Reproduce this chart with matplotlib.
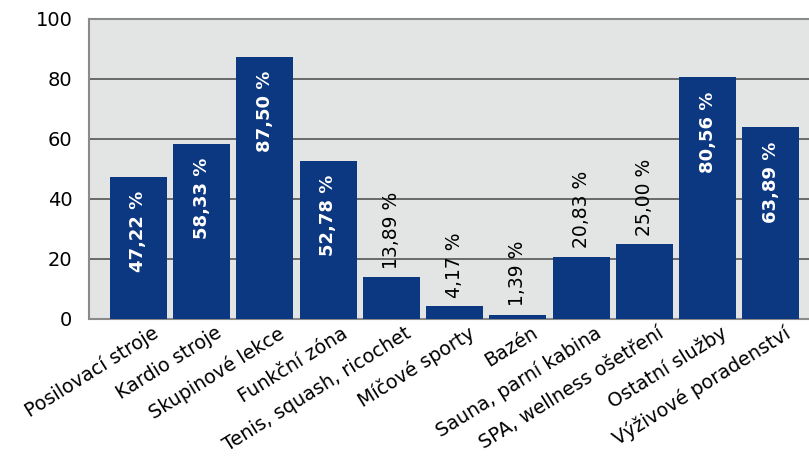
import numpy as np
import matplotlib.pyplot as plt
import matplotlib.transforms as mtransforms

categories = ['Posilovací stroje', 'Kardio stroje', 'Skupinové lekce', 'Funkční zóna',
              'Tenis, squash, ricochet', 'Míčové sporty', 'Bazén', 'Sauna, parní kabina',
              'SPA, wellness ošetření', 'Ostatní služby', 'Výživové poradenství']
values = [47.22, 58.33, 87.50, 52.78, 13.89, 4.17, 1.39, 20.83, 25.00, 80.56, 63.89]
yticks = [0, 20, 40, 60, 80, 100]

BAR = '#0c3781'


def fmt(v):
    return f'{v:.2f}'.replace('.', ',') + ' %'


def main():
    fig = plt.figure(figsize=(8.09, 4.57), dpi=100)
    ax = fig.add_axes([89 / 809, 138 / 457, 730 / 809, 300 / 457])
    ax.set_facecolor('#e3e4e4')

    x = np.arange(len(values))
    ax.bar(x, values, width=0.9, color=BAR, zorder=3)

    ax.set_ylim(0, 100)
    ax.set_xlim(-0.78, 10.76)
    ax.set_yticks(yticks)
    ax.set_yticklabels([str(t) for t in yticks], fontsize=14)
    ax.yaxis.grid(True, color='#555555', linewidth=1.2, zorder=1)
    ax.tick_params(axis='y', length=0, pad=12)
    ax.tick_params(axis='x', length=0, pad=4)
    for s in ax.spines.values():
        s.set_color('#8a8a8a')
        s.set_linewidth(1.5)
    ax.spines['right'].set_visible(False)

    ax.set_xticks(x)
    ax.set_xticklabels(categories, rotation=32, ha='right', va='top',
                       rotation_mode='anchor', fontsize=13.8)
    shift = mtransforms.ScaledTranslation(13 / 100, 1 / 100, fig.dpi_scale_trans)
    for lbl in ax.get_xticklabels():
        lbl.set_transform(lbl.get_transform() + shift)

    # big values inside the bar, small ones above it
    for xi, v in zip(x, values):
        if v > 40:
            ax.annotate(fmt(v), (xi, v), xytext=(0, -10), textcoords='offset points',
                        rotation=90, ha='center', va='top', color='white',
                        fontweight='bold', fontsize=13, zorder=4)
        else:
            ax.annotate(fmt(v), (xi, v), xytext=(0, 6), textcoords='offset points',
                        rotation=90, ha='center', va='bottom', color='black',
                        fontsize=13.5, zorder=4)

    fig.savefig('out.png', dpi=100)


if __name__ == '__main__':
    main()
